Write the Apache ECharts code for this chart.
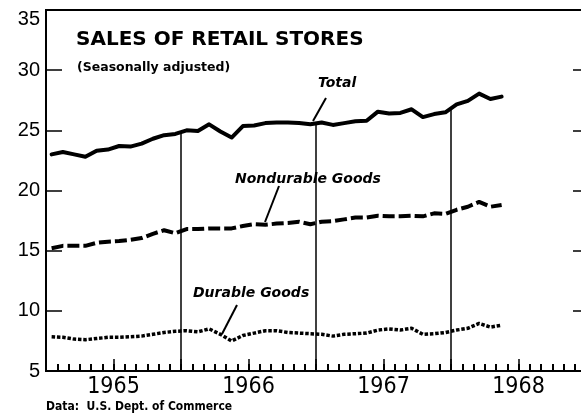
<!DOCTYPE html>
<html>
<head>
<meta charset="utf-8">
<script src="https://cdn.jsdelivr.net/npm/echarts@6/dist/echarts.min.js"></script>
<style>
html,body{margin:0;padding:0;background:#fff;overflow:hidden;}
#chart{width:581px;height:417px;}
</style>
</head>
<body>
<div id="chart"></div>
<script>
// Monthly data, Jan 1965 .. May 1968 (billions of dollars, seasonally adjusted)
const yearLabels = ['1965', '1966', '1967', '1968'];
const monthNames = ['Jan', 'Feb', 'Mar', 'Apr', 'May', 'Jun', 'Jul', 'Aug', 'Sep', 'Oct', 'Nov', 'Dec'];
const yTicks = [5, 10, 15, 20, 25, 30, 35];

const total = [
  23.0, 23.2, 23.0, 22.8, 23.3, 23.4, 23.7, 23.65, 23.9, 24.3, 24.6, 24.7,
  25.0, 24.95, 25.5, 24.9, 24.4, 25.35, 25.4, 25.6, 25.65, 25.65, 25.6, 25.5,
  25.65, 25.45, 25.6, 25.75, 25.8, 26.55, 26.4, 26.45, 26.75, 26.1, 26.35, 26.5,
  27.15, 27.45, 28.05, 27.6, 27.8
];
const nondurable = [
  15.2, 15.4, 15.4, 15.4, 15.65, 15.75, 15.8, 15.9, 16.05, 16.4, 16.7, 16.45,
  16.8, 16.8, 16.85, 16.85, 16.85, 17.05, 17.2, 17.15, 17.25, 17.3, 17.4, 17.2,
  17.4, 17.45, 17.6, 17.75, 17.75, 17.9, 17.85, 17.85, 17.9, 17.85, 18.1, 18.05,
  18.4, 18.65, 19.05, 18.65, 18.8
];
const durable = [
  7.85, 7.8, 7.65, 7.6, 7.7, 7.8, 7.8, 7.85, 7.9, 8.05, 8.2, 8.3,
  8.35, 8.25, 8.5, 8.05, 7.5, 7.95, 8.15, 8.35, 8.35, 8.2, 8.15, 8.1,
  8.05, 7.9, 8.05, 8.1, 8.15, 8.4, 8.5, 8.4, 8.55, 8.05, 8.1, 8.2,
  8.4, 8.55, 8.95, 8.65, 8.8
];

const toPts = arr => arr.map((v, i) => [i + 0.5, v]);
// year-boundary vertical rules rise from the baseline to the Total line
const boundaries = [12, 24, 36];
// month categories for the monthly tick comb (Jan 1965 .. Dec 1968)
const monthCats = [];
yearLabels.forEach(y => monthNames.forEach(m => monthCats.push(m + ' ' + y)));

const chart = echarts.init(document.getElementById('chart'), null, {renderer: 'canvas'});

const vSeries = boundaries.map(m => ({
  type: 'line', silent: true, symbol: 'none', z: 1,
  lineStyle: {color: '#000', width: 1.5},
  data: [[m, 5], [m, (total[m - 1] + total[m]) / 2]]
}));

const labelFont = 'DejaVu Sans';
const plotH = 361;
const axisCommon = {type: 'value', min: 0, max: 48, interval: 6, splitLine: {show: false}};

chart.setOption({
  animation: false,
  backgroundColor: '#fff',
  grid: {left: 46, top: 10, width: 540, height: plotH, containLabel: false, outerBoundsMode: 'none',
    show: true, borderColor: '#000', borderWidth: 2, backgroundColor: 'transparent'},
  xAxis: [Object.assign({}, axisCommon, {
    // bottom axis: line + year labels
    position: 'bottom',
    axisLine: {show: true, onZero: false, lineStyle: {color: '#000', width: 2}},
    axisTick: {show: false},
    axisLabel: {
      margin: 5, color: '#000', fontSize: 23, fontFamily: 'Liberation Sans Narrow, DejaVu Sans Condensed, sans-serif',
      formatter: v => (v % 12 === 6 ? yearLabels[(v - 6) / 12] : '')
    }
  }), Object.assign({}, axisCommon, {
    // mid-year long ticks: a top-side axis shifted onto the baseline so ticks point upward
    position: 'top', offset: -plotH,
    axisLine: {show: false, onZero: false},
    axisTick: {show: true, inside: false, length: 12, lineStyle: {color: '#000', width: 1.5}},
    axisLabel: {show: false}
  }), {
    // monthly short ticks
    type: 'category', data: monthCats, boundaryGap: true,
    position: 'top', offset: -plotH,
    axisLine: {show: false, onZero: false},
    axisTick: {show: true, inside: false, interval: 0, length: 7, lineStyle: {color: '#000', width: 2}},
    axisLabel: {show: false, interval: 0},
    splitLine: {show: false}
  }],
  yAxis: [{
    type: 'value', min: 5, max: 35, interval: 5, position: 'left',
    axisLine: {show: true, onZero: false, lineStyle: {color: '#000', width: 2}},
    axisTick: {show: true, inside: true, length: 16, lineStyle: {color: '#000', width: 1.5}},
    splitLine: {show: false},
    axisLabel: {margin: 6, color: '#000', fontSize: 20, fontFamily: 'Liberation Sans, Arial, sans-serif',
      formatter: v => (v === 35 ? '{top|35}' : (yTicks.indexOf(v) >= 0 ? String(v) : '')),
      rich: {top: {fontSize: 20, fontFamily: 'Liberation Sans, Arial, sans-serif', color: '#000', padding: [18, 0, 0, 0]}}}
  }, {
    type: 'value', min: 5, max: 35, interval: 5, position: 'right',
    axisLine: {show: true, onZero: false, lineStyle: {color: '#000', width: 2}},
    axisTick: {show: true, inside: true, length: 13, lineStyle: {color: '#000', width: 1.5}},
    splitLine: {show: false},
    axisLabel: {show: false}
  }],
  series: [
    {name: 'Total', type: 'line', symbol: 'none', z: 3, data: toPts(total),
      lineStyle: {color: '#000', width: 4, join: 'round', cap: 'round'}},
    {name: 'Nondurable Goods', type: 'line', symbol: 'none', z: 3, data: toPts(nondurable),
      lineStyle: {color: '#000', width: 4, type: [12, 4]}},
    {name: 'Durable Goods', type: 'line', symbol: 'none', z: 3, data: toPts(durable),
      lineStyle: {color: '#000', width: 3.5, type: [3.5, 1.8]}}
  ].concat(vSeries),
  graphic: [
    {type: 'text', left: 30, top: -13, style: {text: 'Billions of Dollars', font: 'bold 14px DejaVu Sans', fill: '#000'}},
    {type: 'text', left: 76, top: 30, style: {text: 'SALES OF RETAIL STORES', font: 'bold 20px DejaVu Sans', fill: '#000'}},
    {type: 'text', left: 77, top: 61, style: {text: '(Seasonally adjusted)', font: 'bold 12.5px DejaVu Sans', fill: '#000'}},
    {type: 'text', left: 318, top: 76, style: {text: 'Total', font: 'italic bold 14px ' + labelFont, fill: '#000'}},
    {type: 'line', shape: {x1: 326, y1: 98, x2: 313, y2: 121}, style: {stroke: '#000', lineWidth: 2}},
    {type: 'text', left: 235, top: 172, style: {text: 'Nondurable Goods', font: 'italic bold 14px ' + labelFont, fill: '#000'}},
    {type: 'line', shape: {x1: 279, y1: 186, x2: 265, y2: 222}, style: {stroke: '#000', lineWidth: 2}},
    {type: 'text', left: 193, top: 286, style: {text: 'Durable Goods', font: 'italic bold 14px ' + labelFont, fill: '#000'}},
    {type: 'line', shape: {x1: 237, y1: 305, x2: 222, y2: 334}, style: {stroke: '#000', lineWidth: 2}},
    {type: 'text', left: 46, top: 401, style: {text: 'Data:  U.S. Dept. of Commerce', font: 'bold 12px DejaVu Sans Condensed', fill: '#000'}}
  ]
});
</script>
</body>
</html>
